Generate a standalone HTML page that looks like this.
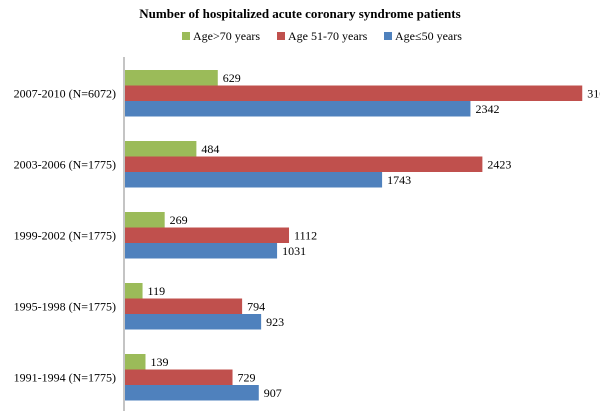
<!DOCTYPE html>
<html><head><meta charset="utf-8"><style>
body{margin:0;background:#fff;}
svg{display:block;font-family:"Liberation Serif",serif;}
</style></head><body>
<svg id="c" width="600" height="413">
<text x="300" y="18" text-anchor="middle" font-weight="bold" font-size="13">Number of hospitalized acute coronary syndrome patients</text>
<g font-size="12">
<rect x="182" y="32" width="8" height="8" fill="#9bbb59"/><text x="193" y="40">Age&gt;70 years</text>
<rect x="277" y="32" width="8" height="8" fill="#c0504d"/><text x="288" y="40">Age 51-70 years</text>
<rect x="384" y="32" width="8" height="8" fill="#4f81bd"/><text x="395" y="40">Age≤50 years</text>
</g>
<line x1="124" y1="57" x2="124" y2="411" stroke="#888"/>
<g id="bars"></g>
</svg>
<script>
const categories=["2007-2010 (N=6072)","2003-2006 (N=1775)","1999-2002 (N=1775)","1995-1998 (N=1775)","1991-1994 (N=1775)"];
const over70=[629,484,269,119,139];
const age5170=[3100,2423,1112,794,729];
const under50=[2342,1743,1031,923,907];
const series=[over70,age5170,under50];
const colors=["#9bbb59","#c0504d","#4f81bd"];
const names=["bar-over70","bar-51-70","bar-under50"];
const x0=125, scale=0.1475;
const xs=v=>x0+v*scale;
const ys=i=>70+i*71;
const bh=15.5;
const g=document.getElementById('bars');
const NS="http://www.w3.org/2000/svg";
categories.forEach((c,i)=>{
  const t=document.createElementNS(NS,'text');
  
  
  t.setAttribute('x',116);t.setAttribute('y',ys(i)+bh*1.5+4);
  t.setAttribute('text-anchor','end');t.setAttribute('font-size','12');
  t.textContent=c;g.appendChild(t);
  series.forEach((s,k)=>{
    const r=document.createElementNS(NS,'rect');
    
    
    const y=ys(i)+k*bh;
    r.setAttribute('x',x0);r.setAttribute('y',y);
    r.setAttribute('width',xs(s[i])-x0);r.setAttribute('height',bh);
    r.setAttribute('fill',colors[k]);g.appendChild(r);
    const l=document.createElementNS(NS,'text');
    
    
    l.setAttribute('x',xs(s[i])+5);l.setAttribute('y',y+bh/2+4);
    l.setAttribute('font-size','12');l.textContent=s[i];g.appendChild(l);
  });
});
</script>
</body></html>
